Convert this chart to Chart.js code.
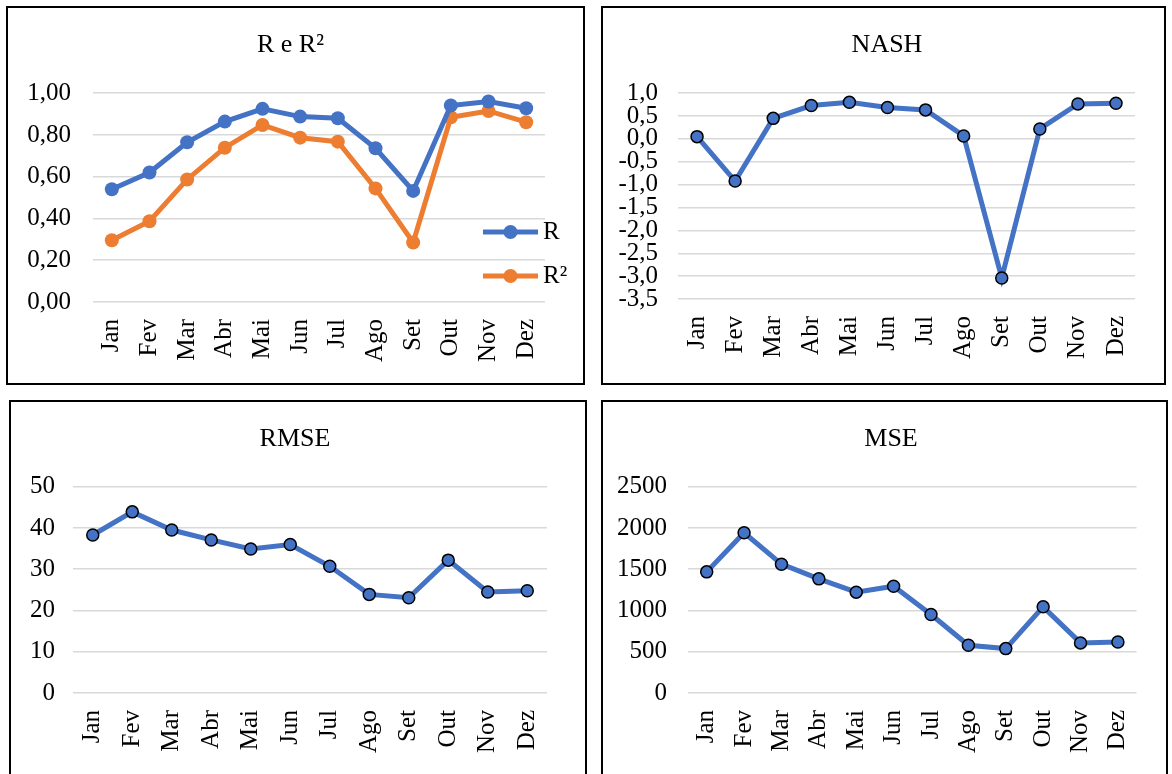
<!DOCTYPE html>
<html>
<head>
<meta charset="utf-8">
<title>R e R², NASH, RMSE, MSE</title>
<script src="https://cdn.jsdelivr.net/npm/chart.js@4.4.1/dist/chart.umd.min.js"></script>
<style>
  html, body { margin: 0; padding: 0; background: #fff; overflow: hidden; }
  body { width: 1172px; height: 774px; position: relative; }
  .panel { position: absolute; box-sizing: border-box; border: 2px solid #000; background: #fff; }
  .panel canvas { display: block; }
  #p1 { left: 6px; top: 6px; width: 579px; height: 379px; }
  #p2 { left: 601px; top: 6px; width: 565px; height: 379px; }
  #p3 { left: 9px; top: 400px; width: 578px; height: 380px; }
  #p4 { left: 601px; top: 400px; width: 567px; height: 380px; }
</style>
</head>
<body>
<div class="panel" id="p1"><canvas id="chart_r" width="575" height="375"></canvas></div>
<div class="panel" id="p2"><canvas id="chart_nash" width="561" height="375"></canvas></div>
<div class="panel" id="p3"><canvas id="chart_rmse" width="574" height="376"></canvas></div>
<div class="panel" id="p4"><canvas id="chart_mse" width="563" height="376"></canvas></div>

<script>
// months on the x axis
const months = ['Jan', 'Fev', 'Mar', 'Abr', 'Mai', 'Jun', 'Jul', 'Ago', 'Set', 'Out', 'Nov', 'Dez'];

// values
const rValues    = [0.54, 0.62, 0.765, 0.864, 0.925, 0.888, 0.88, 0.736, 0.532, 0.941, 0.96, 0.928];
const r2Values   = [0.296, 0.387, 0.587, 0.739, 0.848, 0.787, 0.768, 0.544, 0.285, 0.885, 0.915, 0.861];
const nashValues = [0.05, -0.92, 0.45, 0.73, 0.80, 0.686, 0.635, 0.066, -3.04, 0.219, 0.766, 0.78];
const rmseValues = [38.3, 43.9, 39.5, 37.1, 34.9, 36.0, 30.7, 23.9, 23.1, 32.2, 24.5, 24.8];
const mseValues  = [1468, 1942, 1561, 1383, 1222, 1294, 951, 578, 538, 1044, 607, 619];

const blue = '#4472C4';
const orange = '#ED7D31';

Chart.defaults.font.family = '"Liberation Serif", "Times New Roman", Times, serif';
Chart.defaults.color = '#000';

// excel style legend: a short line with a marker, sitting inside the plot area
const lineLegend = {
    id: 'lineLegend',
    afterDraw(chart, args, opts) {
        if (!opts.display) return;
        const ctx = chart.ctx;
        const area = chart.chartArea;
        ctx.save();
        chart.data.datasets.forEach(function (ds, i) {
            const y = area.bottom - 70 + i * 44;
            ctx.strokeStyle = ds.borderColor;
            ctx.lineWidth = 5;
            ctx.beginPath();
            ctx.moveTo(area.right - 62, y);
            ctx.lineTo(area.right - 7, y);
            ctx.stroke();
            ctx.fillStyle = ds.borderColor;
            ctx.beginPath();
            ctx.arc(area.right - 34.5, y, 7, 0, Math.PI * 2);
            ctx.fill();
            ctx.fillStyle = '#000';
            ctx.font = '25px ' + Chart.defaults.font.family;
            ctx.textBaseline = 'middle';
            ctx.textAlign = 'left';
            ctx.fillText(ds.label, area.right - 2, y);
        });
        ctx.restore();
    }
};

function drawMetricChart(canvasId, cfg) {
    const datasets = [];
    for (var i = 0; i < cfg.series.length; i++) {
        const s = cfg.series[i];
        datasets.push({
            label: s.label,
            data: s.data,
            borderColor: s.colour,
            backgroundColor: s.colour,
            borderWidth: 5,
            tension: 0,
            pointRadius: s.outlined ? 6 : 7,
            pointHoverRadius: s.outlined ? 6 : 7,
            pointBackgroundColor: s.colour,
            pointBorderColor: s.outlined ? '#000' : s.colour,
            pointBorderWidth: s.outlined ? 1.5 : 0
        });
    }

    const canvas = document.getElementById(canvasId);
    return new Chart(canvas, {
        type: 'line',
        data: { labels: months, datasets: datasets },
        plugins: [lineLegend],
        options: {
            responsive: false,
            animation: false,
            layout: { padding: { left: cfg.padLeft, right: cfg.padRight, top: 0, bottom: 0 } },
            plugins: {
                legend: { display: false },
                tooltip: { enabled: false },
                title: {
                    display: true,
                    text: cfg.title,
                    color: '#000',
                    font: { size: 26, weight: 'normal' },
                    padding: { top: 22, bottom: cfg.titleGap }
                },
                lineLegend: { display: !!cfg.legend }
            },
            scales: {
                x: {
                    offset: true,
                    grid: { display: false, drawTicks: false },
                    border: { display: false },
                    ticks: { autoSkip: false, minRotation: 90, maxRotation: 90, padding: 17, font: { size: 25 } },
                    afterFit: function (scale) { scale.height = cfg.xHeight; }
                },
                y: {
                    min: cfg.min,
                    max: cfg.max,
                    grid: { color: '#d9d9d9', lineWidth: 1.5, drawTicks: false },
                    border: { display: false },
                    ticks: {
                        stepSize: cfg.step,
                        autoSkip: false,
                        padding: cfg.yPad,
                        font: { size: 25 },
                        callback: function (v) { return Number(v).toFixed(cfg.decimals).replace('.', ','); }
                    },
                    afterFit: function (scale) { scale.width = cfg.yWidth; }
                },
                // empty spacer on the right, only there to hold the plot area in place
                spacer: {
                    type: 'linear',
                    position: 'right',
                    grid: { display: false, drawTicks: false },
                    border: { display: false },
                    ticks: { display: false },
                    afterFit: function (scale) { scale.width = cfg.rightGap; }
                }
            }
        }
    });
}

drawMetricChart('chart_r', {
    title: 'R e R²',
    series: [
        { label: 'R', data: rValues, colour: blue },
        { label: 'R²', data: r2Values, colour: orange }
    ],
    legend: true,
    min: 0, max: 1, step: 0.2, decimals: 2,
    padLeft: 0, padRight: 10, yWidth: 85, rightGap: 28, yPad: 22, xHeight: 81, titleGap: 32
});

drawMetricChart('chart_nash', {
    title: 'NASH',
    series: [{ label: 'NASH', data: nashValues, colour: blue, outlined: true }],
    min: -3.5, max: 1, step: 0.5, decimals: 1,
    padLeft: 7, padRight: 0, yWidth: 68, rightGap: 24, yPad: 20, xHeight: 84, titleGap: 32
});

drawMetricChart('chart_rmse', {
    title: 'RMSE',
    series: [{ label: 'RMSE', data: rmseValues, colour: blue, outlined: true }],
    min: 0, max: 50, step: 10, decimals: 0,
    padLeft: 0, padRight: 6, yWidth: 62, rightGap: 32, yPad: 18, xHeight: 85, titleGap: 31.5
});

drawMetricChart('chart_mse', {
    title: 'MSE',
    series: [{ label: 'MSE', data: mseValues, colour: blue, outlined: true }],
    min: 0, max: 2500, step: 500, decimals: 0,
    padLeft: 13, padRight: 0, yWidth: 72, rightGap: 26, yPad: 21, xHeight: 85, titleGap: 31.5
});
</script>
</body>
</html>
